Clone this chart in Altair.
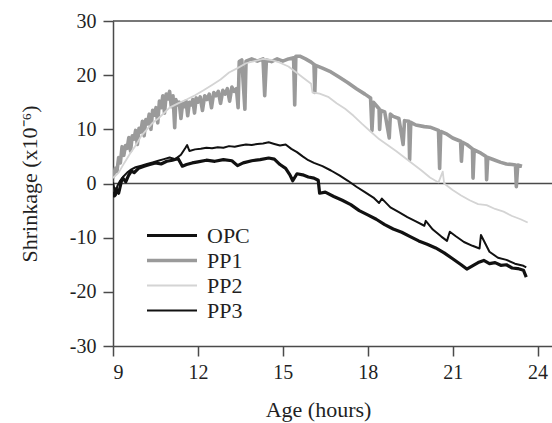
import altair as alt
import pandas as pd

# ---------------- data ----------------
series_names = ["OPC", "PP1", "PP2", "PP3"]
series_colors = ["#111111", "#9a9a9a", "#d4d4d4", "#111111"]
series_widths = [3.2, 3.6, 1.8, 2.0]

x_ticks = [9, 12, 15, 18, 21, 24]
y_ticks = [-30, -20, -10, 0, 10, 20, 30]

opc_t = [9.0, 9.05, 9.1, 9.2, 9.3, 9.35, 9.45, 9.55, 9.65, 9.75,
         9.9, 10.1, 10.3, 10.5, 10.7, 10.9, 11.1, 11.3, 11.45, 11.6,
         11.8, 12.0, 12.3, 12.6, 12.9, 13.2, 13.4, 13.6, 13.9, 14.2,
         14.5, 14.7, 14.9, 15.1, 15.25, 15.35, 15.5, 15.7, 15.9, 16.1,
         16.25, 16.3, 16.5, 16.8, 17.1, 17.4, 17.7, 18.0, 18.3, 18.6,
         18.9, 19.2, 19.5, 19.8, 20.1, 20.4, 20.7, 21.0, 21.3, 21.5,
         21.7, 21.9, 22.1, 22.3, 22.5, 22.7, 22.9, 23.1, 23.3, 23.5,
         23.6]
opc_v = [-1.5, -2.3, -1.0, -1.8, 0.5, 1.0, 0.3, 1.5, 2.3, 2.0,
         2.8, 3.2, 3.5, 3.8, 3.6, 4.1, 4.3, 4.6, 3.2, 3.5,
         3.8, 4.0, 4.3, 4.1, 4.4, 4.2, 3.3, 3.8, 4.2, 4.4,
         4.7, 4.5, 3.5, 2.8, 1.6, 0.5, 1.8, 1.6, 1.2, 1.0,
         0.6, -1.8, -1.6, -2.4, -3.1, -3.9, -5.0, -5.8, -6.6, -7.6,
         -8.4, -9.0, -9.8, -10.6, -11.2, -11.9, -12.8, -13.9, -15.0, -15.8,
         -15.2, -14.6, -14.2, -14.8, -14.6, -15.1, -15.0, -15.6, -15.7, -16.0,
         -17.3]

pp1_t = [9.0, 9.08, 9.14, 9.2, 9.26, 9.32, 9.38, 9.44, 9.5, 9.56,
         9.62, 9.68, 9.74, 9.8, 9.86, 9.92, 9.98, 10.04, 10.1, 10.16,
         10.22, 10.28, 10.34, 10.4, 10.46, 10.52, 10.58, 10.64, 10.7, 10.76,
         10.82, 10.88, 10.94, 11.0, 11.06, 11.12, 11.18, 11.22, 11.28, 11.34,
         11.4, 11.46, 11.52, 11.58, 11.64, 11.7, 11.76, 11.82, 11.88, 11.94,
         12.0, 12.08, 12.16, 12.24, 12.32, 12.4, 12.48, 12.56, 12.64, 12.72,
         12.8, 12.88, 12.96, 13.04, 13.12, 13.2, 13.28, 13.36, 13.42, 13.46,
         13.55, 13.66, 13.7, 13.9, 14.1, 14.3, 14.36, 14.42, 14.6, 14.8,
         15.0, 15.2, 15.38, 15.42, 15.46, 15.6, 15.8, 16.0, 16.1, 16.13,
         16.16, 16.4, 16.7, 17.0, 17.3, 17.6, 17.9, 18.1, 18.15, 18.2,
         18.4, 18.42, 18.46, 18.6, 18.76, 18.8, 18.9, 19.1, 19.25, 19.3,
         19.45, 19.48, 19.52, 19.7, 20.0, 20.2, 20.5, 20.54, 20.58, 20.8,
         21.0, 21.28, 21.31, 21.35, 21.5, 21.7, 21.72, 21.76, 22.0, 22.18,
         22.2, 22.24, 22.5, 22.7, 22.9, 23.1, 23.22, 23.25, 23.3, 23.45]
pp1_v = [1.0, 2.8, 2.2, 4.8, 3.8, 6.8, 5.2, 7.0, 6.5, 8.5,
         6.0, 8.8, 8.2, 9.8, 7.2, 10.2, 9.5, 11.5, 8.8, 11.8,
         11.0, 12.8, 10.0, 13.5, 12.6, 14.0, 11.2, 15.2, 14.0, 16.2,
         13.0, 16.5, 15.6, 17.0, 14.2, 16.2, 10.3, 15.5, 14.5, 15.0,
         12.0, 14.8, 14.2, 15.2, 12.5, 15.0, 14.5, 15.5, 13.0, 15.8,
         15.0, 16.0, 13.5, 16.2, 15.5, 16.5, 14.0, 16.8, 16.2, 17.0,
         14.8, 17.2, 16.5, 17.5, 15.2, 17.8, 17.0, 17.5, 14.0, 22.5,
         22.8, 13.7, 22.6, 23.0, 22.6, 23.0, 16.2, 22.8, 22.5, 23.0,
         22.6, 23.0, 23.2, 14.5, 23.5, 23.5, 23.0, 22.4, 22.0, 16.8,
         21.8, 21.3, 20.6, 19.6, 18.6, 17.5, 16.5, 15.8, 9.8, 15.0,
         13.8, 10.0, 13.5, 13.2, 8.4, 12.8, 12.4, 12.0, 7.2, 11.6,
         11.5, 4.4, 11.3, 10.8, 10.5, 10.4, 9.8, 2.8, 9.6, 9.1,
         8.4, 7.8, 4.1, 7.6, 7.2, 6.4, 1.0, 6.2, 5.6, 5.0,
         0.7, 4.8, 4.3, 3.9, 3.6, 3.5, 3.4, -0.6, 3.4, 3.2]

pp2_t = [9.0, 9.2, 9.4, 9.6, 9.8, 10.0, 10.2, 10.4, 10.6, 10.8,
         11.0, 11.3, 11.6, 11.9, 12.2, 12.5, 12.8, 13.1, 13.4, 13.7,
         14.0, 14.3, 14.6, 14.9, 15.2, 15.5, 15.8, 16.0, 16.05, 16.3,
         16.6, 16.9, 17.2, 17.5, 17.8, 18.1, 18.4, 18.7, 19.0, 19.3,
         19.6, 19.9, 20.2, 20.5, 20.65, 20.7, 21.0, 21.3, 21.6, 21.9,
         22.2, 22.5, 22.8, 23.1, 23.4, 23.65]
pp2_v = [1.0, 2.0, 3.8, 5.5, 7.0, 8.8, 10.0, 11.2, 12.0, 13.0,
         14.0, 14.8, 15.5, 16.3, 17.2, 18.2, 19.2, 20.5, 21.3, 22.2,
         22.6, 23.0, 22.8, 22.3, 21.6, 20.4, 19.2, 18.4, 16.8, 16.6,
         16.0, 14.8, 13.8, 12.5, 11.0, 9.6, 8.2, 7.1, 6.0, 4.8,
         3.6, 2.4, 1.1, 0.2, 2.2, 0.0, -1.2, -2.2, -3.1, -3.8,
         -4.0, -4.7, -5.2, -6.0, -6.6, -7.2]

pp3_t = [9.0, 9.05, 9.1, 9.15, 9.25, 9.35, 9.5, 9.65, 9.8, 10.0,
         10.2, 10.4, 10.6, 10.8, 11.0, 11.2, 11.4, 11.55, 11.62, 11.7,
         11.9, 12.1, 12.3, 12.5, 12.7, 12.9, 13.1, 13.3, 13.5, 13.7,
         13.9, 14.1, 14.3, 14.5, 14.7, 14.9, 15.1, 15.3, 15.5, 15.7,
         15.9, 16.1, 16.4, 16.7, 17.0, 17.3, 17.6, 17.9, 18.2, 18.4,
         18.5, 18.8, 19.1, 19.4, 19.7, 20.0, 20.05, 20.3, 20.6, 20.8,
         20.9, 21.1, 21.4, 21.7, 21.95, 22.0, 22.3, 22.6, 22.9, 23.2,
         23.5, 23.6]
pp3_v = [0.2, -1.0, -2.2, -0.5, 0.5, 1.2, 2.0, 2.6, 3.0, 3.3,
         3.6, 3.9, 4.2, 4.5, 4.8, 4.5, 5.3, 6.5, 7.1, 6.0,
         6.3, 6.4, 6.6, 6.5, 6.7, 6.6, 6.9, 6.8, 7.0, 7.2,
         7.1, 7.3, 7.4, 7.6, 7.3, 7.0, 7.2, 6.4, 5.8, 5.0,
         4.3, 3.8, 3.2, 2.4, 1.5, 0.5, -0.6, -1.6, -2.6, -3.6,
         -2.8, -4.4, -5.3, -6.2, -7.0, -7.8, -6.9, -8.5, -9.8, -10.6,
         -8.9, -9.7, -10.8, -11.5, -12.0, -9.5, -12.6, -13.7, -14.1, -14.8,
         -15.2, -15.5]

# ---------------- build table ----------------
frames = []
for name, tt, vv in [("OPC", opc_t, opc_v), ("PP1", pp1_t, pp1_v),
                     ("PP2", pp2_t, pp2_v), ("PP3", pp3_t, pp3_v)]:
    assert len(tt) == len(vv), (name, len(tt), len(vv))
    frames.append(pd.DataFrame({"t": tt, "v": vv, "series": name,
                                "i": range(len(tt))}))
df = pd.concat(frames, ignore_index=True)

FONT = "Liberation Serif"
TXT = "#231f1f"
AX = "#4a4a4a"
W, H = 439, 325

legend = alt.Legend(
    title=None, orient="none", legendX=32, legendY=202,
    symbolType="stroke", symbolSize=2500, clipHeight=25, rowPadding=0,
    labelFont=FONT, labelFontSize=22, labelColor=TXT, labelOffset=8,
)

xscale = alt.Scale(domain=[9, 24.51], nice=False, zero=False)
yscale = alt.Scale(domain=[-30, 30], nice=False)

lines = alt.Chart(df).mark_line(clip=True, strokeJoin="round").encode(
    x=alt.X("t:Q", scale=xscale,
            axis=alt.Axis(values=x_ticks, title="Age (hours)",
                          titleX=205, titleY=70, titleBaseline="alphabetic",
                          titleAlign="center", labelPadding=6,
                          labelExpr="'' + datum.value")),
    y=alt.Y("v:Q", scale=yscale,
            axis=alt.Axis(values=y_ticks, title="Shrinkage (x10⁻⁶)",
                          titleX=-84, titleY=H / 2, titleAngle=-90,
                          titleBaseline="middle", titleAlign="center",
                          labelPadding=7, labelExpr="'' + datum.value")),
    stroke=alt.Stroke("series:N",
                      scale=alt.Scale(domain=series_names, range=series_colors),
                      legend=legend),
    strokeWidth=alt.StrokeWidth("series:N",
                                scale=alt.Scale(type="ordinal", domain=series_names,
                                                range=series_widths),
                                legend=legend),
    order=alt.Order("i:Q"),
)

zero = alt.Chart(pd.DataFrame({"v": [0]})).mark_rule(
    color=AX, strokeWidth=1.5).encode(y=alt.Y("v:Q", scale=yscale))

top = alt.Chart(pd.DataFrame({"v": [30]})).mark_rule(
    color=AX, strokeWidth=1.5).encode(y=alt.Y("v:Q", scale=yscale))

chart = alt.layer(zero, lines, top).properties(
    width=W, height=H,
    autosize=alt.AutoSizeParams(type="none"),
    padding={"left": 113, "top": 21, "right": 0, "bottom": 77},
    background="white",
).configure_view(stroke=None).configure_axis(
    grid=False,
    domainColor=AX, domainWidth=1.5,
    tickColor=AX, tickWidth=1.5, tickSize=10,
    labelFont=FONT, labelFontSize=20, labelColor=TXT,
    titleFont=FONT, titleFontSize=22, titleColor=TXT, titleFontWeight="normal",
)

chart.save("out.html", embed_options={"renderer": "svg", "actions": False})
